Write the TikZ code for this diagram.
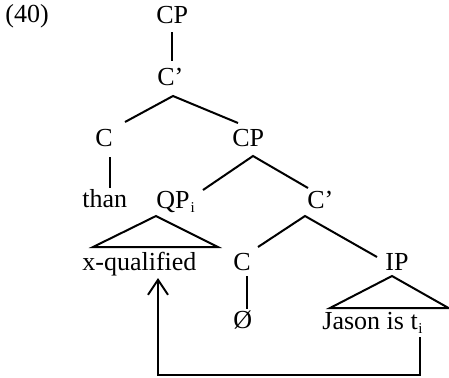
\documentclass[tikz,border=0pt]{standalone}
\usepackage{fontspec}
\setmainfont{Liberation Serif}
\usetikzlibrary{arrows.meta}
\newcommand{\subi}{\raisebox{-2pt}{\fontsize{7.5}{8}\selectfont i}}
\begin{document}
\begin{tikzpicture}[x=0.5pt,y=-0.5pt,
  lbl/.style={inner sep=0pt,anchor=base west,font=\fontsize{13}{15}\selectfont},
  br/.style={line width=1pt},
  tri/.style={line width=1pt,line join=miter},
  mv/.style={line width=1pt,-{Straight Barb[length=7.5pt,width=10pt,line width=1pt]}}]
\useasboundingbox (0,0) rectangle (449,377);
% labels
\node[lbl] (ex) at (5,22) {(40)};
\node[lbl] (cp1) at (156,23) {CP};
\node[lbl] (cb1) at (157,85) {C’};
\node[lbl] (c1) at (95,146) {C};
\node[lbl] (cp2) at (232,146) {CP};
\node[lbl] (than) at (82,207) {than};
\node[lbl] (qp) at (156,208) {QP\kern0.5pt\subi};
\node[lbl] (cb2) at (307,208) {C’};
\node[lbl] (xq) at (82,270) {x-qualified};
\node[lbl] (c2) at (233,270) {C};
\node[lbl] (ip) at (385,270) {IP};
\node[lbl] (null) at (233,328) {Ø};
\node[lbl] (jason) at (322,329) {Jason is t\kern0.3pt\subi};
% branch points
\coordinate (cp1b) at (172,32);
\coordinate (cb1t) at (172,61);
\coordinate (cb1a) at (173,96);
\coordinate (c1t) at (125,122);
\coordinate (cp2t) at (238,123);
\coordinate (c1b) at (110,157);
\coordinate (thant) at (110,188);
\coordinate (cp2a) at (253,156);
\coordinate (qpt) at (203,190);
\coordinate (cb2t) at (308,188);
\coordinate (qpa) at (156,216);
\coordinate (qpl) at (93,247);
\coordinate (qpr) at (218,247);
\coordinate (cb2a) at (305,216);
\coordinate (c2t) at (258,247);
\coordinate (ipt) at (377,257);
\coordinate (c2b) at (247,276);
\coordinate (nullt) at (247,309);
\coordinate (ipa) at (392,276);
\coordinate (ipl) at (330,308);
\coordinate (ipr) at (448.5,308);
\coordinate (tr) at (420,337);
\coordinate (corner1) at (420,375);
\coordinate (corner2) at (158,375);
\coordinate (xqb) at (158,278);
% branches
\draw[br] (cp1b) -- (cb1t);
\draw[br] (c1t) -- (cb1a) -- (cp2t);
\draw[br] (c1b) -- (thant);
\draw[br] (qpt) -- (cp2a) -- (cb2t);
\draw[tri] (qpa) -- (qpl) -- (qpr) -- cycle;
\draw[br] (c2t) -- (cb2a) -- (ipt);
\draw[br] (c2b) -- (nullt);
\draw[tri] (ipa) -- (ipl) -- (ipr) -- cycle;
% movement arrow
\draw[mv] (tr) -- (corner1) -- (corner2) -- (xqb);
\end{tikzpicture}
\end{document}
